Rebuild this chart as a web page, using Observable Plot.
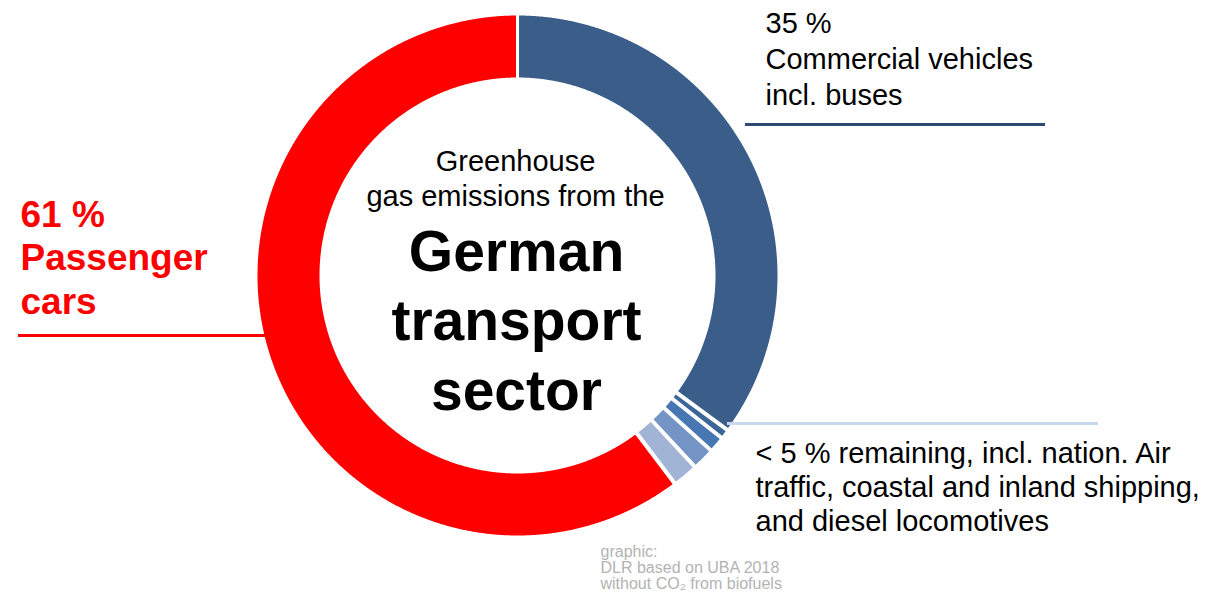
<!DOCTYPE html>
<html>
<head>
<meta charset="utf-8">
<script src="https://cdn.jsdelivr.net/npm/d3@7"></script>
<script src="https://cdn.jsdelivr.net/npm/@observablehq/plot@0.6"></script>
<style>
  html, body { margin: 0; padding: 0; background: #ffffff; }
  #chart svg { display: block; }
</style>
</head>
<body>
<div id="chart"></div>
<script>
// ---------- data ----------
const segments = ["Commercial vehicles incl. buses", "Other transport 1", "Other transport 2", "Other transport 3", "Other transport 4", "Passenger cars"];
const shares = [35.1, 0.6, 1.0, 1.4, 1.6, 60.3];
const segmentColors = ["#3a5d8a", "#3c6598", "#4677b3", "#7594c6", "#a2b4d6", "#ff0000"];

const labelCommercial = ["35 %", "Commercial vehicles", "incl. buses"];
const labelCars = ["61 %", "Passenger", "cars"];
const labelRemaining = ["< 5 % remaining, incl. nation. Air", "traffic, coastal and inland shipping,", "and diesel locomotives"];
const centerSmall = ["Greenhouse", "gas emissions from the"];
const centerBig = ["German", "transport", "sector"];
const sourceNote = ["graphic:", "DLR based on UBA 2018", "without CO\u2082 from biofuels"];

// ---------- layout ----------
const W = 1207, H = 596;
const cx = 517, cy = 275, rOuter = 260, rInner = 198;
const font = "'Liberation Sans', Arial, Helvetica, sans-serif";

// ---------- derived geometry (from the data) ----------
const table = segments.map((s, i) => ({key: s, value: shares[i]}));
const arcs = d3.pie().sort(null).value(d => d.value).startAngle(0).endAngle(2 * Math.PI)(table);
const px = (r, a) => cx + r * Math.sin(a);
const py = (r, a) => cy - r * Math.cos(a);

const ringPoints = [];
for (const a of arcs) {
  const n = Math.max(2, Math.ceil((a.endAngle - a.startAngle) / 0.004) + 1);
  const outer = d3.range(n).map(i => a.startAngle + (a.endAngle - a.startAngle) * i / (n - 1));
  for (const t of outer) ringPoints.push({key: a.data.key, x: px(rOuter, t), y: py(rOuter, t)});
  for (const t of outer.slice().reverse()) ringPoints.push({key: a.data.key, x: px(rInner, t), y: py(rInner, t)});
}
const separators = arcs.map((a, i) => ({
  x1: px(rInner - 3, a.startAngle), y1: py(rInner - 3, a.startAngle),
  x2: px(rOuter + 3, a.startAngle), y2: py(rOuter + 3, a.startAngle),
  w: i === 0 ? 3 : 4
}));

const chart = Plot.plot({
  width: W,
  height: H,
  margin: 0,
  x: {domain: [0, W], range: [0, W], axis: null},
  y: {domain: [0, H], range: [0, H], axis: null},
  color: {domain: segments, range: segmentColors},
  style: {fontFamily: font, background: "#ffffff"},
  marks: [
    Plot.line(ringPoints, {x: "x", y: "y", z: "key", fill: "key", stroke: "none", curve: "linear"}),
    Plot.link(separators, {x1: "x1", y1: "y1", x2: "x2", y2: "y2", stroke: "#ffffff", strokeWidth: "w"}),
    // leader lines
    Plot.ruleY([124], {x1: 745, x2: 1045, stroke: "#2f4a70", strokeWidth: 3}),
    Plot.ruleY([335], {x1: 18, x2: 268, stroke: "#ff0000", strokeWidth: 3}),
    Plot.ruleY([423], {x1: 727, x2: 1098, stroke: "#c6d7ef", strokeWidth: 3}),
    // labels
    Plot.text([labelCommercial.join("\n")], {x: 765, y: 7, text: d => d, textAnchor: "start", lineAnchor: "top", fontSize: 29, lineHeight: 1.24, fill: "#000000"}),
    Plot.text([labelCars.join("\n")], {x: 20, y: 195, text: d => d, textAnchor: "start", lineAnchor: "top", fontSize: 37, fontWeight: "bold", lineHeight: 1.18, fill: "#ff0000"}),
    Plot.text([labelRemaining.join("\n")], {x: 755, y: 439, text: d => d, textAnchor: "start", lineAnchor: "top", fontSize: 29, lineHeight: 1.16, fill: "#000000"}),
    Plot.text([centerSmall.join("\n")], {x: 515, y: 146, text: d => d, textAnchor: "middle", lineAnchor: "top", fontSize: 29, lineHeight: 1.19, fill: "#000000"}),
    Plot.text([centerBig.join("\n")], {x: 516, y: 221, text: d => d, textAnchor: "middle", lineAnchor: "top", fontSize: 57, fontWeight: "bold", lineHeight: 1.22, fill: "#000000"}),
    Plot.text([sourceNote.join("\n")], {x: 600, y: 545, text: d => d, textAnchor: "start", lineAnchor: "top", fontSize: 16, lineHeight: 1.0, fill: "#b3b3b3"})
  ]
});
document.getElementById("chart").appendChild(chart);
</script>
</body>
</html>
